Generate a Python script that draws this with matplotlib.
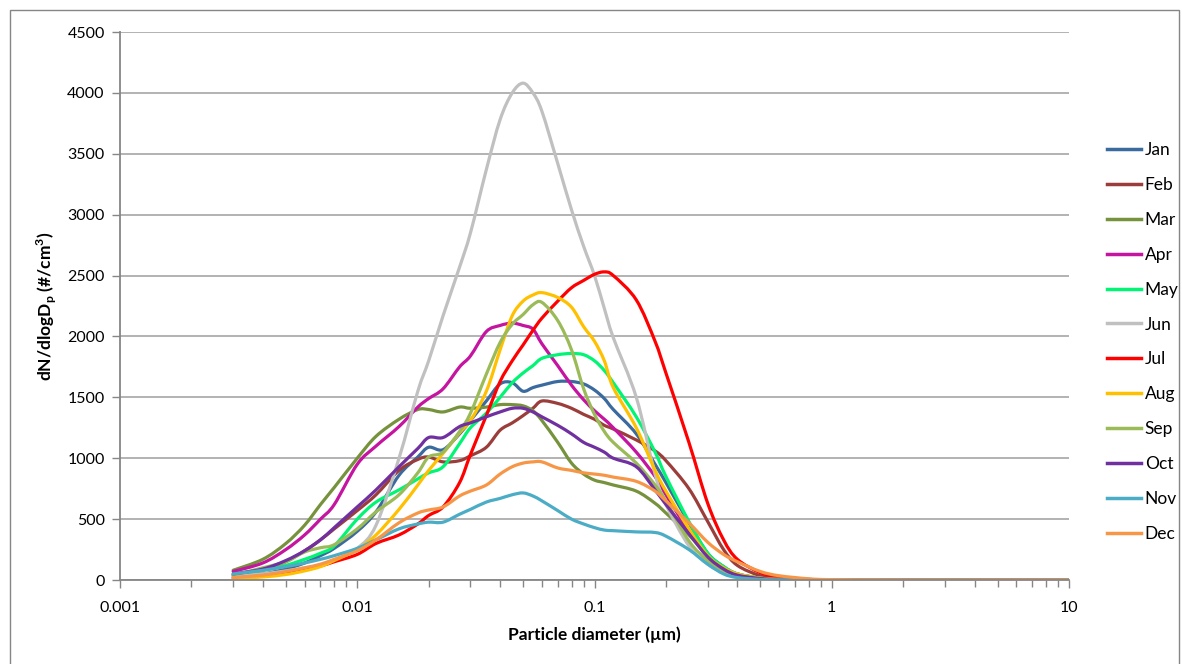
import matplotlib
matplotlib.use("Agg")
import numpy as np
import matplotlib.pyplot as plt
from matplotlib.ticker import LogLocator, FixedLocator, NullFormatter, FuncFormatter
from matplotlib.path import Path
from matplotlib.lines import Line2D
import matplotlib.patches as mpatches

plt.rcParams['font.family'] = ['Lato', 'DejaVu Sans']
plt.rcParams['mathtext.fontset'] = 'custom'
plt.rcParams['mathtext.rm'] = 'Lato'
plt.rcParams['mathtext.bf'] = 'Lato:bold'

# Particle diameters (µm)
diam = [0.003, 0.004, 0.005, 0.006, 0.007, 0.008, 0.01, 0.012, 0.015, 0.018,
        0.02, 0.023, 0.027, 0.03, 0.035, 0.04, 0.045, 0.05, 0.055, 0.06,
        0.07, 0.08, 0.09, 0.1, 0.11, 0.12, 0.15, 0.18, 0.2, 0.25,
        0.3, 0.35, 0.4, 0.5, 0.6, 0.8, 1.0, 2.0, 5.0, 10.0]

months = ["Jan", "Feb", "Mar", "Apr", "May", "Jun", "Jul", "Aug", "Sep", "Oct", "Nov", "Dec"]

jan = [25, 50, 90, 140, 200, 260, 400, 560, 860, 1010,
       1090, 1070, 1200, 1310, 1470, 1610, 1620, 1550, 1580, 1600,
       1630, 1630, 1610, 1560, 1490, 1400, 1200, 950, 800, 470,
       220, 110, 50, 15, 5, 1, 0, 0, 0, 0]
feb = [40, 80, 150, 240, 330, 420, 570, 700, 900, 990,
       1010, 970, 980, 1020, 1090, 1230, 1290, 1350, 1410, 1470,
       1450, 1410, 1360, 1320, 1270, 1240, 1150, 1060, 980, 750,
       480, 250, 120, 35, 10, 2, 0, 0, 0, 0]
mar = [80, 170, 300, 450, 620, 760, 1000, 1180, 1320, 1400,
       1400, 1380, 1420, 1410, 1420, 1440, 1440, 1430, 1390, 1310,
       1130, 960, 870, 820, 800, 780, 730, 630, 550, 370,
       200, 100, 50, 15, 5, 1, 0, 0, 0, 0]
apr = [70, 140, 250, 370, 500, 620, 950, 1100, 1260, 1420,
       1490, 1570, 1750, 1840, 2040, 2090, 2110, 2090, 2060, 1940,
       1760, 1600, 1480, 1390, 1320, 1250, 1050, 850, 700, 400,
       200, 100, 45, 12, 4, 1, 0, 0, 0, 0]
may = [40, 80, 120, 170, 220, 280, 500, 640, 740, 830,
       880, 930, 1120, 1250, 1370, 1500, 1620, 1700, 1760, 1820,
       1850, 1860, 1850, 1800, 1720, 1620, 1340, 1050, 850, 480,
       220, 110, 50, 15, 5, 1, 0, 0, 0, 0]
jun = [30, 50, 75, 100, 120, 160, 260, 450, 1000, 1550,
       1800, 2170, 2570, 2850, 3370, 3780, 4000, 4080, 4000, 3850,
       3420, 3040, 2740, 2500, 2230, 1990, 1500, 870, 620, 280,
       130, 60, 25, 10, 5, 1, 0, 0, 0, 0]
jul = [15, 35, 60, 85, 115, 150, 210, 300, 370, 460,
       530, 600, 800, 1030, 1350, 1630, 1800, 1930, 2050, 2150,
       2290, 2400, 2460, 2510, 2530, 2500, 2300, 1960, 1700, 1130,
       630, 330, 170, 60, 25, 5, 0, 0, 0, 0]
aug = [10, 25, 45, 75, 110, 160, 250, 370, 580, 780,
       900, 1040, 1210, 1310, 1550, 1890, 2170, 2290, 2340, 2360,
       2320, 2240, 2080, 1960, 1800, 1580, 1250, 900, 730, 420,
       200, 100, 50, 15, 5, 1, 0, 0, 0, 0]
sep = [40, 100, 150, 230, 265, 290, 420, 560, 700, 880,
       1010, 1050, 1220, 1370, 1690, 1950, 2100, 2180, 2260, 2280,
       2130, 1890, 1570, 1360, 1220, 1130, 960, 780, 650, 320,
       160, 80, 35, 10, 5, 1, 0, 0, 0, 0]
oct_ = [50, 90, 160, 240, 330, 430, 600, 740, 930, 1080,
        1170, 1170, 1260, 1290, 1340, 1380, 1410, 1410, 1380, 1340,
        1270, 1200, 1130, 1090, 1050, 1000, 930, 740, 620, 380,
        190, 90, 40, 12, 4, 1, 0, 0, 0, 0]
nov = [50, 80, 110, 140, 170, 200, 260, 330, 420, 460,
       475, 475, 540, 580, 640, 670, 700, 715, 690, 650,
       570, 500, 460, 430, 410, 405, 395, 390, 360, 250,
       130, 50, 20, 5, 2, 0, 0, 0, 0, 0]
dec = [20, 40, 70, 100, 130, 170, 240, 330, 470, 550,
       575, 600, 690, 730, 780, 870, 930, 960, 970, 970,
       920, 900, 880, 870, 860, 845, 810, 730, 650, 470,
       310, 210, 150, 70, 35, 10, 3, 0, 0, 0]

series = [jan, feb, mar, apr, may, jun, jul, aug, sep, oct_, nov, dec]
colors = ["#3B6A9E", "#9B3E3B", "#76923C", "#C414A0", "#00F575", "#C0C0C0",
          "#FF0000", "#FFC000", "#9BBB59", "#7030A0", "#4BACC6", "#F79646"]


def smooth_path(xs, ys):
    """Excel-style smoothed line: cubic Bezier (Catmull-Rom) through the data
    points, built in log10(x) space so it is smooth on the log axis."""
    u = np.log10(np.asarray(xs, float))
    v = np.asarray(ys, float)
    n = len(u)
    verts = [(xs[0], ys[0])]
    codes = [Path.MOVETO]
    for i in range(n - 1):
        i0, i2, i3 = max(i - 1, 0), i + 1, min(i + 2, n - 1)
        c1u = u[i] + (u[i2] - u[i0]) / 6.0
        c1v = v[i] + (v[i2] - v[i0]) / 6.0
        c2u = u[i2] - (u[i3] - u[i]) / 6.0
        c2v = v[i2] - (v[i3] - v[i]) / 6.0
        verts += [(10 ** c1u, c1v), (10 ** c2u, c2v), (xs[i2], ys[i2])]
        codes += [Path.CURVE4] * 3
    return Path(verts, codes)


W, H = 1182, 664
fig = plt.figure(figsize=(W / 100, H / 100), dpi=100)
ax = fig.add_axes([120 / W, 1 - 580 / H, (1069 - 120) / W, (580 - 32) / H])

handles = []
for name, vals, c in zip(months, series, colors):
    patch = mpatches.PathPatch(smooth_path(diam, vals), fill=False, edgecolor=c,
                               lw=2.3, capstyle='round', joinstyle='round')
    ax.add_patch(patch)
    handles.append(Line2D([], [], color=c, lw=2.5, label=name))

ax.set_xscale('log')
ax.set_xlim(0.001, 10)
ax.set_ylim(0, 4500)
ax.set_yticks(range(0, 4501, 500))
ax.xaxis.set_major_locator(FixedLocator([0.001, 0.01, 0.1, 1, 10]))
ax.xaxis.set_major_formatter(FuncFormatter(lambda v, p: f"{v:g}"))
ax.xaxis.set_minor_locator(LogLocator(base=10, subs=range(2, 10)))
ax.xaxis.set_minor_formatter(NullFormatter())

gridc = "#A6A6A6"
ax.yaxis.grid(True, color=gridc, lw=1.2)
ax.set_axisbelow(True)
for s in ['top', 'right']:
    ax.spines[s].set_visible(False)
for s in ['left', 'bottom']:
    ax.spines[s].set_color('#868686')
    ax.spines[s].set_linewidth(1.3)
ax.tick_params(axis='both', which='major', length=6, width=1, color='#868686',
               labelsize=11.5, direction='out', pad=5)
ax.tick_params(axis='x', which='minor', length=5, width=1, color='#868686', direction='out')
ax.tick_params(axis='x', which='major', pad=9)

ax.set_xlabel("Particle diameter (µm)", fontsize=12.5, fontweight='bold', labelpad=8)
ax.set_ylabel(r"dN/dlogD$_\mathbf{p}$ (#/cm$^\mathbf{3}$)", fontsize=12.5,
              fontweight='bold', labelpad=6)

leg = ax.legend(handles=handles, loc='center left', bbox_to_anchor=(1098 / W, 1 - 342 / H),
                bbox_transform=fig.transFigure, frameon=False, fontsize=12.5,
                handlelength=2.0, handletextpad=0.2, labelspacing=1.09, borderpad=0)

fig.patches.append(mpatches.Rectangle((10 / W, -0.02), (1179 - 10) / W, (664 - 10) / H + 0.02,
                                      transform=fig.transFigure, fill=False,
                                      edgecolor='#868686', lw=1.0))

fig.savefig("out.png", dpi=100)
